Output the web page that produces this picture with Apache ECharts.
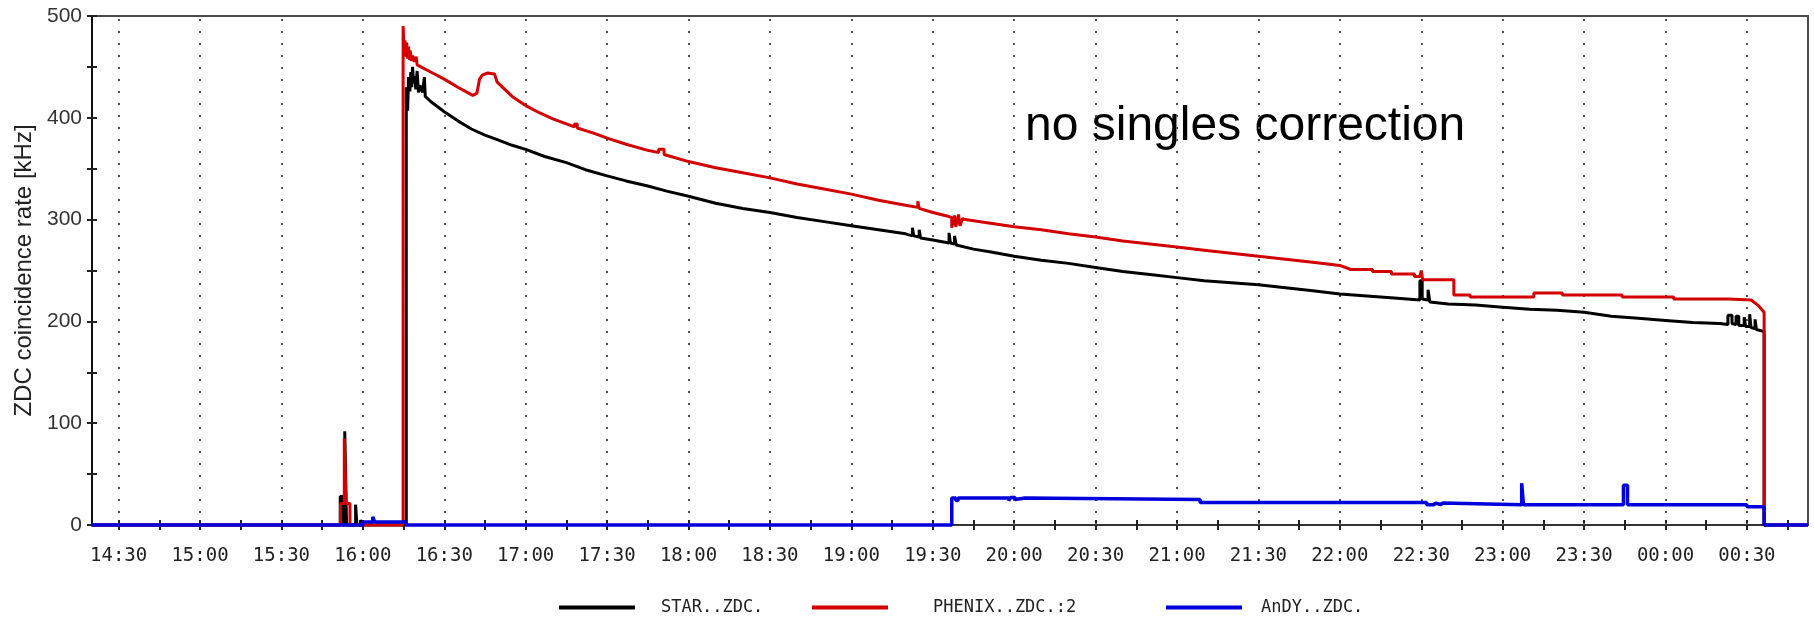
<!DOCTYPE html>
<html>
<head>
<meta charset="utf-8">
<script src="https://cdn.jsdelivr.net/npm/echarts@6/dist/echarts.min.js"></script>
<style>
  html, body { margin: 0; padding: 0; background: #fff; }
  #chart { width: 1814px; height: 621px; }
</style>
</head>
<body>
<div id="chart"></div>
<script>
// ---------- data (times as clock strings; after midnight = next day) ----------
const xRange = ["14:20:12", "00:52:30"];
const tickLabelTimes = ["14:30","15:00","15:30","16:00","16:30","17:00","17:30","18:00","18:30","19:00",
  "19:30","20:00","20:30","21:00","21:30","22:00","22:30","23:00","23:30","00:00","00:30"];
const yTicks = { min: 0, max: 500, step: 50, labelStep: 100 };
const seriesNames = ["STAR..ZDC.", "PHENIX..ZDC.:2", "AnDY..ZDC."];
const annotation = "no singles correction";
const yAxisTitle = "ZDC coincidence rate [kHz]";

const starTimes = ["14:20","15:51:40","15:51:40","15:52:30","15:52:30","15:53:20","15:53:20","15:54:00","15:54:00",
  "15:57:20","15:57:20","15:57:50","15:57:50","15:59:10","15:59:10","15:59:40","15:59:40",
  "16:16:00","16:16:00","16:16:30","16:16:50","16:17:20","16:17:40","16:18:00","16:18:20","16:18:40","16:19:10",
  "16:19:30","16:20:00","16:20:30","16:21:00","16:22:00","16:22:40","16:23:00","16:25","16:30","16:35","16:40",
  "16:45","16:50","16:55","17:00","17:07","17:15","17:22","17:30","17:37","17:45","17:52","18:00","18:10","18:20",
  "18:30","18:40","18:50","19:00","19:10","19:20","19:22:30","19:22:30","19:23:00","19:23:00","19:25:00","19:25:00",
  "19:25:30","19:25:30","19:30","19:36:00","19:36:00","19:36:30","19:36:30","19:38:00","19:38:00","19:38:40","19:38:40",
  "19:45","19:52","20:00","20:10","20:20","20:30","20:40","20:50","21:00","21:10","21:20","21:30","21:40","21:50",
  "22:00","22:10","22:20","22:29:30","22:29:30","22:30:20","22:30:20","22:32:30","22:32:30","22:33:10","22:33:10",
  "22:40","22:50","23:00","23:10","23:20","23:30","23:40","23:50","00:00","00:10","00:20","00:23:00","00:23:00",
  "00:24:30","00:24:30","00:26:00","00:26:00","00:27:00","00:27:00","00:29:00","00:29:00","00:29:30","00:29:30",
  "00:31:00","00:31:00","00:31:30","00:31:30","00:33:00","00:33:00","00:33:30","00:33:30","00:36:20","00:36:20","00:52:30"];
const starValues = [0,0,28,28,0,0,92,92,0,
  0,20,20,0,0,5,5,0,
  0,430,407,440,426,445,430,450,434,441,
  428,446,425,432,425,440,421,416,406,397,389,
  383,378,373,369,362,356,349,343,338,333,328,323,316,311,
  307,302,298,294,290,286,284,292,292,284,283,290,
  290,282,280,277,287,287,277,276,284,284,275,
  271,268,264,260,257,253,249,246,243,240,238,236,233,230,
  227,225,223,221,240,240,222,221,231,231,219,
  217,216,214,212,211,209,205,203,201,199,198,197,206,
  206,198,197,205,205,196,196,204,204,195,
  195,207,207,194,193,202,202,192,190,0,0];

const phenixTimes = ["14:20","15:51:45","15:51:45","15:53:10","15:53:10","15:53:50","15:53:50","15:55:15","15:55:15",
  "16:14:50","16:14:50","16:15:10","16:15:30","16:15:50","16:16:10","16:16:30","16:16:50","16:17:10","16:17:30",
  "16:17:50","16:18:20","16:19:00","16:19:40","16:20:00","16:25","16:30","16:35","16:40:30","16:42","16:43","16:44",
  "16:46","16:48:30","16:49:30","16:55","17:00","17:05","17:10","17:15","17:18","17:18","17:19","17:19","17:25",
  "17:30","17:37","17:45","17:49","17:49","17:51","17:51","18:00","18:10","18:20","18:30","18:40","18:50","19:00",
  "19:10","19:20","19:24:30","19:24:30","19:25:00","19:25:00","19:30","19:36","19:37:00","19:37:00","19:38:00",
  "19:38:30","19:39:30","19:40:00","19:41","19:42","19:50","20:00","20:10","20:20","20:30","20:40","20:50","21:00",
  "21:10","21:20","21:30","21:40","21:50","22:00","22:04","22:12","22:12","22:19","22:19","22:27:30","22:27:30",
  "22:29:30","22:30:00","22:30:30","22:42","22:42","22:48","22:48","23:11:30","23:11:30","23:22","23:22","23:44",
  "23:44","00:03","00:03","00:23","00:23","00:31:30","00:34","00:36:20","00:36:20","00:52:30"];
const phenixValues = [0,0,21,21,85,85,21,21,0,
  0,490,468,476,460,474,458,470,457,466,
  456,461,455,460,452,445,438,430,422,424,438,442,
  444,443,435,421,412,405,399,394,391,394,394,390,385,
  380,374,368,366,369,369,364,357,351,346,341,335,330,325,
  319,314,312,318,318,311,307,303,302,292,304,
  293,305,294,301,300,297,293,290,286,283,279,276,273,
  270,267,264,261,258,255,251,251,249,249,246.5,246.5,244,
  244,250,241,241,226,226,224,224,228,228,226,226,
  224,224,222,222,221,221,216,209,0,0];

const andyTimes = ["14:20","16:00:00","16:00:00","16:03:40","16:03:40","16:04:20","16:04:20","16:16:00","16:16:00",
  "19:37:00","19:37:00","19:38:30","19:38:30","19:39:20","19:39:20","19:58:00","19:58:00","19:58:40","19:58:40",
  "20:00:20","20:00:20","20:01:00","20:01:00","20:04:00","20:04:00","21:08:30","21:08:30","22:32:00","22:32:00",
  "22:34:30","22:34:30","22:35:30","22:35:30","22:37:00","22:37:00","22:38:00","22:38:00","23:07:00","23:07:00",
  "23:07:40","23:07:40","23:44:30","23:44:30","23:46:00","23:46:00","00:30:00","00:30:00","00:36:20","00:36:20","00:52:30"];
const andyValues = [0,0,3,3,8,8,3,3,0,
  0,26.5,26.5,24,24,26.5,26.5,24,24,27,
  27,25,25,26.5,26.5,25,25,22,22,20,
  20,21.5,21.5,20,20,21.5,21.5,20,20,41,
  41,20,20,39,39,20,20,18,18,0,0];

// ---------- helpers ----------
function toMin(s) {
  const p = s.split(':').map(Number);
  let m = p[0] * 60 + p[1] + (p[2] || 0) / 60;
  if (p[0] < 12) m += 1440;
  return m;
}
function pairs(times, values) { return times.map((t, i) => [toMin(t), values[i]]); }
function fmt(v) {
  const m = Math.round(v);
  const h = Math.floor(m / 60) % 24, mm = m % 60;
  return String(h).padStart(2, '0') + ':' + String(mm).padStart(2, '0');
}

const xMin = toMin(xRange[0]), xMax = toMin(xRange[1]);
const labelVals = tickLabelTimes.map(toMin);
const minorTicks = [];
for (let v = labelVals[0]; v <= xMax; v += 15) minorTicks.push(v);

const tickLine = { color: '#222', width: 2 };
const legendLefts = [554, 807, 1161];
const legendTextGaps = [21, 40, 14];

const chart = echarts.init(document.getElementById('chart'), null, { renderer: 'canvas' });
const option = {
  animation: false,
  backgroundColor: '#ffffff',
  grid: { left: 92, right: 6, top: 16, bottom: 96, show: true, borderColor: '#4a4a4a', borderWidth: 2, backgroundColor: 'transparent' },
  legend: seriesNames.map((n, i) => ({
    data: [n], left: legendLefts[i], top: 594, icon: 'rect', itemWidth: 76, itemHeight: 4,
    textStyle: { fontFamily: 'DejaVu Sans Mono', fontSize: 17, color: '#222', padding: [0, 0, 0, legendTextGaps[i]] },
    selectedMode: false
  })),
  xAxis: [
    { type: 'value', min: xMin, max: xMax, position: 'bottom',
      axisLine: { show: true, onZero: false, lineStyle: { color: '#333', width: 2 } },
      axisTick: { show: true, length: 5, customValues: minorTicks, lineStyle: tickLine },
      axisLabel: { customValues: labelVals, formatter: fmt, margin: 22, fontFamily: 'DejaVu Sans Mono', fontSize: 19, color: '#222' },
      splitLine: { show: false } },
    { type: 'value', min: xMin, max: xMax, position: 'bottom',
      axisLine: { show: false, onZero: false },
      axisTick: { show: true, inside: true, length: 5, customValues: minorTicks, lineStyle: tickLine },
      axisLabel: { show: false }, splitLine: { show: false } }
  ],
  yAxis: [
    { type: 'value', min: yTicks.min, max: yTicks.max, interval: yTicks.step, position: 'left',
      name: yAxisTitle, nameLocation: 'middle', nameGap: 56,
      nameTextStyle: { fontFamily: 'Liberation Sans', fontSize: 24, color: '#222' },
      axisLine: { show: true, onZero: false, lineStyle: { color: '#111', width: 2 } },
      axisTick: { show: true, length: 5, lineStyle: tickLine },
      axisLabel: { margin: 10, fontFamily: 'Liberation Sans', fontSize: 21, color: '#333',
        formatter: v => (v % yTicks.labelStep === 0 ? String(v) : '') },
      splitLine: { show: false } },
    { type: 'value', min: yTicks.min, max: yTicks.max, interval: yTicks.step, position: 'left',
      axisLine: { show: false, onZero: false },
      axisTick: { show: true, inside: true, length: 5, lineStyle: tickLine },
      axisLabel: { show: false }, splitLine: { show: false } }
  ],
  series: [
    { name: seriesNames[0], type: 'line', data: pairs(starTimes, starValues), color: '#000000',
      showSymbol: false, symbol: 'none', clip: false, silent: true, lineStyle: { color: '#000000', width: 3 },
      emphasis: { disabled: true },
      markLine: { silent: true, symbol: ['none', 'none'], label: { show: false }, z: 1,
        lineStyle: { color: '#555', width: 2, type: [2, 10] }, emphasis: { disabled: true },
        data: labelVals.map(v => ({ xAxis: v })) } },
    { name: seriesNames[1], type: 'line', data: pairs(phenixTimes, phenixValues), color: '#d20000',
      showSymbol: false, symbol: 'none', clip: false, silent: true, lineStyle: { color: '#d20000', width: 3 },
      emphasis: { disabled: true } },
    { name: seriesNames[2], type: 'line', data: pairs(andyTimes, andyValues), color: '#0000dd',
      showSymbol: false, symbol: 'none', clip: false, silent: true, lineStyle: { color: '#0000dd', width: 3.5 },
      emphasis: { disabled: true } }
  ],
  graphic: [
    { type: 'text', left: 1025, top: 103, silent: true,
      style: { text: annotation, font: '48px "Liberation Sans"', fill: '#000' } }
  ]
};
chart.setOption(option);
</script>
</body>
</html>
